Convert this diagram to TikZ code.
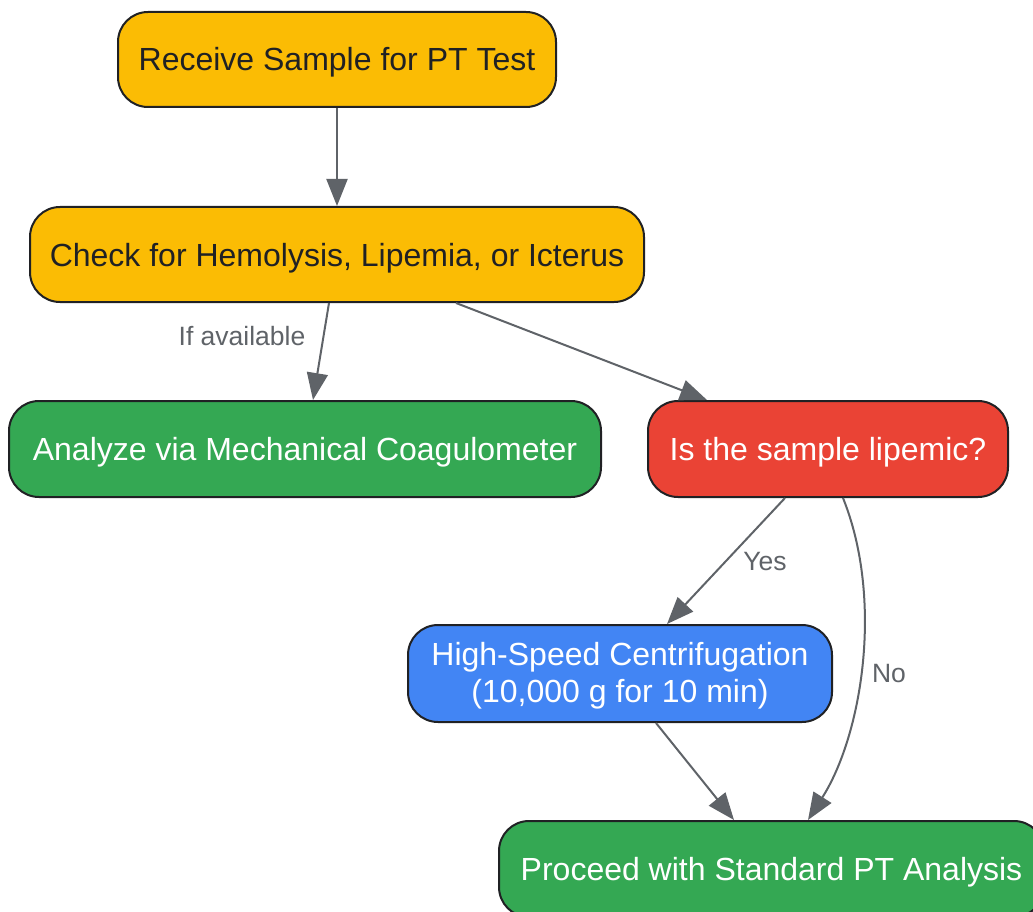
\documentclass[tikz,border=0pt]{standalone}
\usepackage{fontspec}
\setmainfont{Liberation Sans}
\usetikzlibrary{arrows.meta,calc}
\definecolor{cyellow}{HTML}{FBBC04}
\definecolor{cgreen}{HTML}{34A853}
\definecolor{cred}{HTML}{EA4335}
\definecolor{cblue}{HTML}{4285F4}
\definecolor{cedge}{HTML}{5F6368}
\definecolor{cborder}{HTML}{202124}
\tikzset{
  box/.style={draw=cborder, line width=2pt, rounded corners=30pt, align=center,
    font=\fontsize{32}{37}\selectfont, inner sep=0pt},
  oneline/.style={text height=23pt, text depth=0pt},
  ybox/.style={box, fill=cyellow, text=cborder},
  gbox/.style={box, fill=cgreen, text=white},
  rbox/.style={box, fill=cred, text=white},
  bbox/.style={box, fill=cblue, text=white},
  edge/.style={draw=cedge, line width=2pt, -{Triangle[length=27pt,width=21pt]}, color=cedge},
  elabel/.style={text=cedge, font=\fontsize{26.5}{30}\selectfont}
}
\begin{document}
\begin{tikzpicture}[x=1pt,y=-1pt]
\useasboundingbox (0,0) rectangle (1033,912);
\clip (0,0) rectangle (1033,912);
\node[ybox, oneline, minimum width=438pt, minimum height=95pt] (n1) at (337,59.5) {Receive Sample for PT Test};
\node[ybox, oneline, minimum width=614pt, minimum height=95pt] (n2) at (337,254.5) {Check for Hemolysis, Lipemia, or Icterus};
\node[gbox, oneline, minimum width=592pt, minimum height=96pt] (n3) at (305,449) {Analyze via Mechanical Coagulometer};
\node[rbox, oneline, minimum width=360pt, minimum height=96pt] (n4) at (828,449) {Is the sample lipemic?};
\node[bbox, minimum width=424pt, minimum height=97pt] (n5) at (620,673.5) {\raisebox{-3pt}[\height][\depth]{\begin{tabular}{@{}c@{}}High-Speed Centrifugation\\(10,000 g for 10 min)\end{tabular}}};
\node[gbox, oneline, minimum width=545pt, minimum height=96pt] (n6) at (771.5,869) {Proceed with Standard PT Analysis};

\draw[edge] (n1.south) -- (n2.north);
\draw[edge] ([xshift=-8pt]n2.south) -- ([xshift=8pt]n3.north);
\draw[edge] ([xshift=119pt]n2.south) -- ([xshift=-121pt]n4.north);
\draw[edge] ([xshift=-43pt]n4.south) -- ([xshift=47pt]n5.north);
\draw[edge] ([xshift=15pt]n4.south) .. controls (884,600) and (862,735) .. ([xshift=36.5pt]n6.north);
\draw[edge] ([xshift=36pt]n5.south) -- ([xshift=-37.5pt]n6.north);

\node[elabel] (l1) at (242,336) {If available};
\node[elabel] (l2) at (765,562) {Yes};
\node[elabel] (l3) at (889,674) {No};
\end{tikzpicture}
\end{document}
